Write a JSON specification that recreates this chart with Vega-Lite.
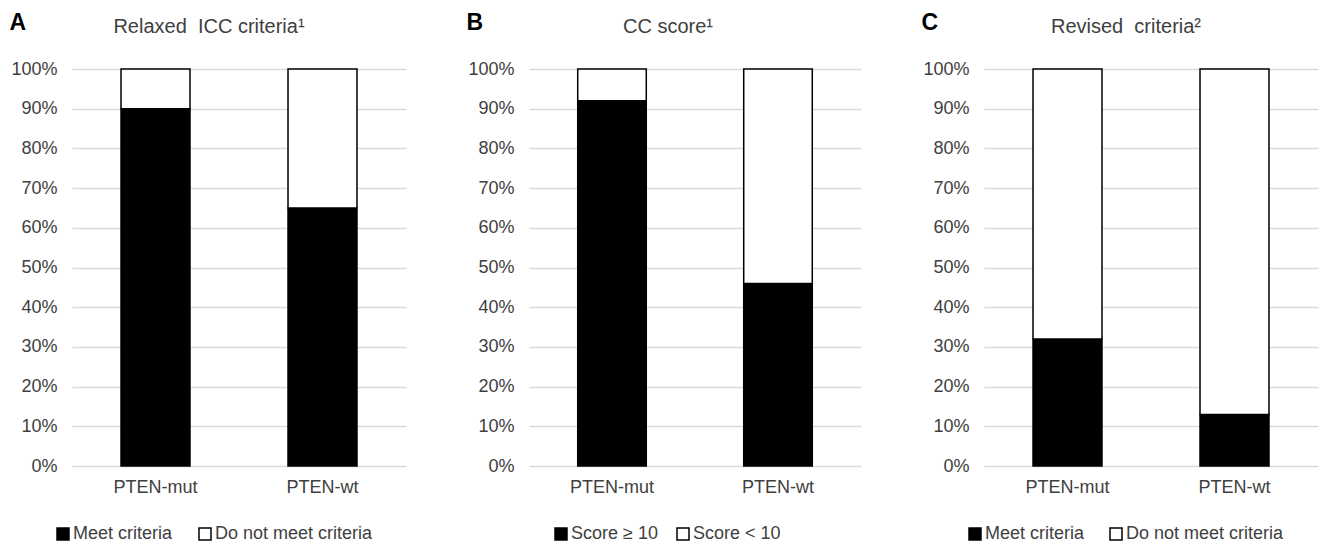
{
  "$schema": "https://vega.github.io/schema/vega-lite/v6.json",
  "padding": {"left": 9, "top": 11, "right": 5, "bottom": 5},
  "background": "white",
  "hconcat": [
    {
      "width": 334, "height": 397,
      "title": {"text": "Relaxed\u00a0 ICC criteria¹", "dx": -30},
      "data": {"values": [
        {"group": "PTEN-mut", "status": "Meet criteria", "value": 0.90, "order": 1},
        {"group": "PTEN-mut", "status": "Do not meet criteria", "value": 0.10, "order": 2},
        {"group": "PTEN-wt", "status": "Meet criteria", "value": 0.65, "order": 1},
        {"group": "PTEN-wt", "status": "Do not meet criteria", "value": 0.35, "order": 2}
      ]},
      "mark": {"type": "bar", "stroke": "black", "strokeWidth": 1.5},
      "encoding": {
        "x": {"field": "group", "type": "nominal", "scale": {"paddingInner": 0.587, "paddingOuter": 0.2935}, "axis": {"title": null}},
        "y": {"field": "value", "type": "quantitative", "stack": "zero", "scale": {"domain": [0, 1]}, "axis": {"title": "A"}},
        "color": {"field": "status", "type": "nominal", "scale": {"domain": ["Meet criteria", "Do not meet criteria"], "range": ["#000000", "#ffffff"]},
          "legend": {"legendX": -18, "columnPadding": 23}},
        "order": {"field": "order", "type": "quantitative"}
      }
    },
    {
      "width": 332, "height": 397,
      "title": {"text": "CC score¹", "dx": -27},
      "data": {"values": [
        {"group": "PTEN-mut", "status": "Score ≥ 10", "value": 0.92, "order": 1},
        {"group": "PTEN-mut", "status": "Score < 10", "value": 0.08, "order": 2},
        {"group": "PTEN-wt", "status": "Score ≥ 10", "value": 0.46, "order": 1},
        {"group": "PTEN-wt", "status": "Score < 10", "value": 0.54, "order": 2}
      ]},
      "mark": {"type": "bar", "stroke": "black", "strokeWidth": 1.5},
      "encoding": {
        "x": {"field": "group", "type": "nominal", "scale": {"paddingInner": 0.587, "paddingOuter": 0.2935}, "axis": {"title": null}},
        "y": {"field": "value", "type": "quantitative", "stack": "zero", "scale": {"domain": [0, 1]}, "axis": {"title": "B"}},
        "color": {"field": "status", "type": "nominal", "scale": {"domain": ["Score ≥ 10", "Score < 10"], "range": ["#000000", "#ffffff"]},
          "legend": {"legendX": 23, "columnPadding": 16}},
        "order": {"field": "order", "type": "quantitative"}
      }
    },
    {
      "width": 334, "height": 397,
      "title": {"text": "Revised\u00a0 criteria²", "dx": -25},
      "data": {"values": [
        {"group": "PTEN-mut", "status": "Meet criteria", "value": 0.32, "order": 1},
        {"group": "PTEN-mut", "status": "Do not meet criteria", "value": 0.68, "order": 2},
        {"group": "PTEN-wt", "status": "Meet criteria", "value": 0.13, "order": 1},
        {"group": "PTEN-wt", "status": "Do not meet criteria", "value": 0.87, "order": 2}
      ]},
      "mark": {"type": "bar", "stroke": "black", "strokeWidth": 1.5},
      "encoding": {
        "x": {"field": "group", "type": "nominal", "scale": {"paddingInner": 0.587, "paddingOuter": 0.2935}, "axis": {"title": null}},
        "y": {"field": "value", "type": "quantitative", "stack": "zero", "scale": {"domain": [0, 1]}, "axis": {"title": "C"}},
        "color": {"field": "status", "type": "nominal", "scale": {"domain": ["Meet criteria", "Do not meet criteria"], "range": ["#000000", "#ffffff"]},
          "legend": {"legendX": -18, "columnPadding": 22}},
        "order": {"field": "order", "type": "quantitative"}
      }
    }
  ],
  "spacing": 123,
  "bounds": "flush",
  "resolve": {"scale": {"color": "independent", "y": "independent", "x": "independent"}, "legend": {"color": "independent"}},
  "config": {
    "font": "Liberation Sans",
    "view": {"stroke": null},
    "title": {"fontSize": 20, "fontWeight": "normal", "color": "#404040", "offset": -26, "anchor": "middle"},
    "axisX": {"labelAngle": 0, "domain": false, "ticks": false, "grid": false, "labelFontSize": 18, "labelColor": "#404040", "labelPadding": 12},
    "axisY": {"domain": false, "ticks": false, "grid": true, "gridColor": "#d9d9d9", "gridWidth": 1.5,
      "values": [0, 0.1, 0.2, 0.3, 0.4, 0.5, 0.6, 0.7, 0.8, 0.9, 1], "format": ".0%",
      "labelFontSize": 18, "labelColor": "#404040", "labelPadding": 15,
      "titleAngle": 0, "titleX": -63, "titleY": -40, "titleAlign": "left", "titleBaseline": "alphabetic",
      "titleFontSize": 23, "titleFontWeight": "bold", "titleColor": "black"},
    "legend": {"orient": "none", "legendY": 456, "direction": "horizontal", "title": null, "symbolType": "square", "symbolSize": 144,
      "symbolStrokeColor": "black", "symbolStrokeWidth": 1.5, "labelFontSize": 18, "labelColor": "#404040", "labelOffset": 1}
  }
}
